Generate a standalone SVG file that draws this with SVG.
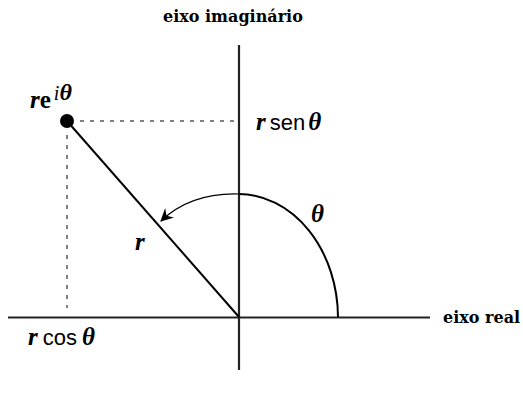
<svg xmlns="http://www.w3.org/2000/svg" width="523" height="399" viewBox="0 0 523 399">
<style>
.ax{stroke:#222;stroke-width:2.2;fill:none}
.ln{stroke:#000;stroke-width:2;fill:none}
.dash{stroke:#000;stroke-width:1;stroke-dasharray:4,6;fill:none}
.lbl{font-family:"DejaVu Serif","Liberation Serif",serif;font-weight:bold;font-size:16px;fill:#000}
.m{font-family:"Liberation Serif",serif;font-style:italic;font-weight:bold;font-size:25px;fill:#000}
.s{font-family:"Liberation Sans",sans-serif;font-size:22px;fill:#000}
</style>
<defs>
<marker id="ah" viewBox="0 0 12 12" refX="11" refY="6" markerWidth="13" markerHeight="13" markerUnits="userSpaceOnUse" orient="auto">
<path d="M0,0 L12,6 L0,12 L4,6 Z" fill="#000"/>
</marker>
</defs>
<g id="connectors">
<line class="ax" x1="239" y1="45" x2="239" y2="370"/>
<line class="ax" x1="8" y1="317.5" x2="430" y2="317.5"/>
<line class="dash" x1="80" y1="121" x2="236" y2="121"/>
<line class="dash" x1="67" y1="135" x2="67" y2="308"/>
<line class="ln" x1="67" y1="121" x2="239" y2="317"/>
<path class="ln" d="M338,317 A100,124 0 0 0 239,194"/>
<path d="M239,194 C205,193 180,203 161,221" stroke="#000" stroke-width="1.2" fill="none" marker-end="url(#ah)"/>
</g>
<g id="point"><circle cx="67" cy="121" r="7" fill="#000"/></g>
<g id="label-rei"><text x="30" y="108" class="m">r<tspan font-style="normal">e</tspan><tspan dx="3" dy="-8" font-size="20" font-weight="normal">i</tspan><tspan font-size="24">θ</tspan></text></g>
<g id="label-rsen"><text x="256" y="130" class="m">r<tspan class="s" font-style="normal" font-weight="normal" dx="4">sen</tspan><tspan dx="3">θ</tspan></text></g>
<g id="label-rcos"><text x="28" y="345" class="m">r<tspan class="s" font-style="normal" font-weight="normal" dx="5">cos</tspan><tspan dx="5">θ</tspan></text></g>
<g id="label-theta"><text x="311" y="222" class="m">θ</text></g>
<g id="label-r"><text x="135" y="250" class="m">r</text></g>
<g id="label-real"><text x="443" y="323" class="lbl">eixo real</text></g>
<g id="label-imag"><text x="163" y="22" class="lbl">eixo imaginário</text></g>
</svg>
